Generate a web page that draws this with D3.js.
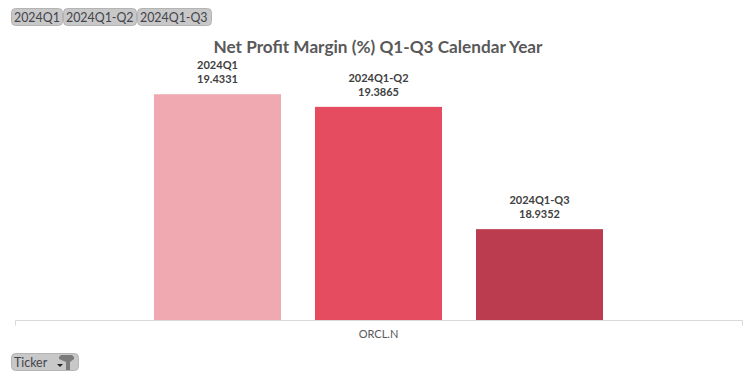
<!DOCTYPE html>
<html><head><meta charset="utf-8">
<script src="https://cdn.jsdelivr.net/npm/d3@7"></script>
<style>html,body{margin:0;padding:0;background:#fff}svg{display:block;font-family:Lato,"Open Sans",sans-serif}</style>
</head><body><div id="c"></div>
<script>
const categories = ["ORCL.N"];
const seriesNames = ["2024Q1","2024Q1-Q2","2024Q1-Q3"];
const seriesValues = [19.4331,19.3865,18.9352];
const seriesColors = ["#f0a9b0","#e64c5f","#bc3c4f"];
const titleText = "Net Profit Margin (%) Q1-Q3 Calendar Year";
const filterLabel = "Ticker";
const W=756,H=378;
const svg=d3.select("#c").append("svg").attr("width",W).attr("height",H);
const x0=d3.scaleBand().domain(categories).range([15,742]);
const cx=x0(categories[0])+x0.bandwidth()/2;
const x1=d3.scaleBand().domain(seriesNames).range([cx-241.5,cx+241.5]).paddingInner(34/161).paddingOuter(17/161);
const y=d3.scaleLinear().domain([18.6,19.6]).range([320,49]);

// Title
svg.append("text").attr("x",378).attr("y",52.5).attr("text-anchor","middle")
  .attr("font-size",17.2).attr("font-weight",700).attr("fill","#595959").text(titleText);

// Bars
svg.selectAll("rect.bar").data(seriesNames).join("rect").attr("class","bar")
  .attr("x",d=>x1(d)).attr("width",x1.bandwidth())
  .attr("y",(d,i)=>y(seriesValues[i])).attr("height",(d,i)=>y.range()[0]-y(seriesValues[i]))
  .attr("fill",(d,i)=>seriesColors[i]);

// Labels
const lab=svg.selectAll("g.lab").data(seriesNames).join("g").attr("class","lab")
  .attr("transform",(d,i)=>`translate(${x1(d)+x1.bandwidth()/2},${y(seriesValues[i])})`)
  .attr("font-size",11).attr("font-weight",700).attr("fill","#404040").attr("text-anchor","middle");
lab.append("text").attr("y",-25).text(d=>d);
lab.append("text").attr("y",-11).text((d,i)=>seriesValues[i].toFixed(4));

// Axis
const ax=svg.append("g").attr("transform","translate(0,320.5)")
  .call(d3.axisBottom(x0).tickSize(0).tickPadding(10));
ax.select(".domain").attr("stroke","#d9d9d9").attr("d","M15.5,5V0H742.5V5");
ax.selectAll("text").attr("font-size",11).attr("font-family","Lato").attr("fill","#595959");

// Slicer buttons
function button(x,y0,w,h,txt){
  const g=svg.append("g");
  g.append("rect").attr("x",x+.5).attr("y",y0+.5).attr("width",w).attr("height",h).attr("rx",4)
    .attr("fill","#c8c8c8").attr("stroke","#b4b4b4");
  g.append("text").attr("x",x+3).attr("y",y0+13.5).attr("font-size",12.4).attr("fill","#44444c").text(txt);
  return g;
}
const widths=[51,73,74], xs=[11,63,137];
seriesNames.forEach((s,i)=>button(xs[i],8,widths[i],17,s));
const fb=button(11,353,67,17,filterLabel);
fb.select("text").attr("x",14).attr("y",366.5);
// dropdown arrow and filter funnel icon
fb.append("path").attr("d",d3.line()([[57,364],[63,364],[60,367]])).attr("fill","#222");
fb.append("path").attr("d",d3.line().curve(d3.curveLinearClosed)([[59,357],[61,355],[72,355],[74,357],[74,359],[70,362],[70,370],[66,370],[66,362],[59,359]])).attr("fill","#7b7b7b");
</script></body></html>
